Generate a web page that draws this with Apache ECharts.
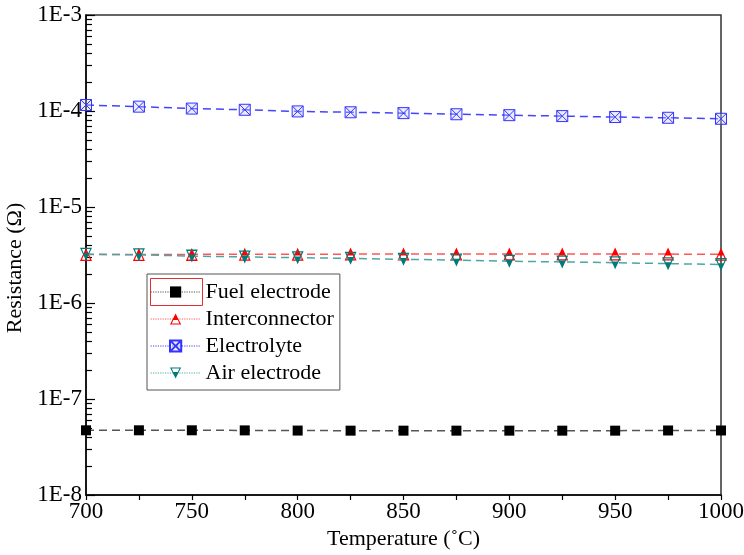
<!DOCTYPE html>
<html>
<head>
<meta charset="utf-8">
<script src="https://cdn.jsdelivr.net/npm/echarts@6/dist/echarts.min.js"></script>
<style>html,body{margin:0;padding:0;background:#fff;}#c{width:744px;height:555px;}</style>
</head>
<body>
<div id="c"></div>
<script>
var temps = [700, 725, 750, 775, 800, 825, 850, 875, 900, 925, 950, 975, 1000];
var fuelElectrode = [4.72e-8, 4.72e-8, 4.72e-8, 4.71e-8, 4.69e-8, 4.68e-8, 4.68e-8, 4.68e-8, 4.68e-8, 4.68e-8, 4.68e-8, 4.7e-8, 4.7e-8];
var interconnector = [3.2e-6, 3.2e-6, 3.21e-6, 3.22e-6, 3.22e-6, 3.23e-6, 3.23e-6, 3.23e-6, 3.23e-6, 3.23e-6, 3.23e-6, 3.23e-6, 3.22e-6];
var electrolyte = [1.155e-4, 1.11e-4, 1.06e-4, 1.03e-4, 0.99e-4, 0.97e-4, 0.95e-4, 0.925e-4, 0.905e-4, 0.885e-4, 0.865e-4, 0.85e-4, 0.83e-4];
var airElectrode = [3.22e-6, 3.18e-6, 3.08e-6, 3.02e-6, 2.96e-6, 2.92e-6, 2.85e-6, 2.8e-6, 2.72e-6, 2.68e-6, 2.63e-6, 2.57e-6, 2.52e-6];
var seriesNames = ['Fuel electrode', 'Interconnector', 'Electrolyte', 'Air electrode'];
var yTickValues = [1e-8, 1e-7, 1e-6, 1e-5, 1e-4, 1e-3];
var yTickLabels = ['1E-8', '1E-7', '1E-6', '1E-5', '1E-4', '1E-3'];
var xTickLabels = ['700', '750', '800', '850', '900', '950', '1000'];

var minorVals = [];
for (var d = -8; d < -3; d++) {
  for (var k = 2; k <= 9; k++) minorVals.push(k * Math.pow(10, d));
}

var FONT = '"Liberation Serif", "Times New Roman", serif';
var upHalf = 'path://M5 0 L10 10 L0 10 Z M3 6 L1.6 9 L8.4 9 L7 6 Z';
var downHalf = 'path://M0 0 L10 0 L5 10 Z M1.6 1 L3 4 L7 4 L8.4 1 Z';
var boxX = 'path://M0 0 L10 0 L10 10 L0 10 Z M0 0 L10 10 M10 0 L0 10';

function pairs(arr) { return temps.map(function (t, i) { return [t, arr[i]]; }); }

var chart = echarts.init(document.getElementById('c'), null, { renderer: 'canvas' });
chart.setOption({
  animation: false,
  backgroundColor: '#fff',
  textStyle: { fontFamily: FONT },
  grid: { left: 86, right: 23, top: 15, bottom: 60, show: true, borderColor: '#333', borderWidth: 1.5,
    backgroundColor: 'transparent', containLabel: false, outerBoundsMode: 'none' },
  legend: {
    left: 147, top: 274, orient: 'vertical',
    padding: [7, 6, 6, 3],
    itemWidth: 50, itemHeight: 14, itemGap: 5,
    borderColor: '#555', borderWidth: 1,
    backgroundColor: '#fff',
    textStyle: { fontFamily: FONT, fontSize: 22, color: '#000' },
    lineStyle: { type: 'dotted', width: 1.2 },
    data: seriesNames
  },
  xAxis: {
    type: 'value', min: 700, max: 1000, interval: 50,
    name: 'Temperature (\u02DAC)', nameLocation: 'middle', nameGap: 30,
    nameTextStyle: { fontFamily: FONT, fontSize: 22, color: '#000' },
    axisLine: { show: true, lineStyle: { color: '#000', width: 1.5 } },
    axisTick: { show: true, inside: false, length: 5, lineStyle: { color: '#000', width: 1.2 } },
    minorTick: { show: true, splitNumber: 2, length: 5, lineStyle: { color: '#000', width: 1.2 } },
    axisLabel: { fontFamily: FONT, fontSize: 23, color: '#000', margin: 5, hideOverlap: false,
      formatter: function (v) { var i = xTickLabels.indexOf(String(v)); return i >= 0 ? xTickLabels[i] : ''; } },
    splitLine: { show: false }
  },
  yAxis: [{
    type: 'log', logBase: 10, min: 1e-8, max: 1e-3,
    name: 'Resistance (\u03A9)', nameLocation: 'middle', nameGap: 58,
    nameTextStyle: { fontFamily: FONT, fontSize: 22, color: '#000', padding: [0, 26, 0, 0] },
    axisLine: { show: true, lineStyle: { color: '#000', width: 1.5 } },
    axisTick: { show: true, inside: true, length: 9, lineStyle: { color: '#000', width: 1.2 } },
    axisLabel: { fontFamily: FONT, fontSize: 23, color: '#000', margin: 4,
      formatter: function (v) {
        var e = Math.round(Math.log10(v));
        for (var i = 0; i < yTickValues.length; i++) {
          if (Math.round(Math.log10(yTickValues[i])) === e) return yTickLabels[i];
        }
        return '';
      } },
    splitLine: { show: false }
  }, {
    type: 'log', logBase: 10, min: 1e-8, max: 1e-3, position: 'left',
    axisLine: { show: false },
    axisTick: { show: true, inside: true, length: 6, customValues: minorVals, lineStyle: { color: '#000', width: 1.2 } },
    axisLabel: { show: false },
    splitLine: { show: false }
  }],
  series: [{
    name: seriesNames[0], type: 'line', data: pairs(fuelElectrode),
    symbol: 'rect', symbolSize: 10,
    itemStyle: { color: '#000' },
    lineStyle: { color: '#555', width: 1.5, type: [8, 5] },
    z: 3
  }, {
    name: seriesNames[1], type: 'line', data: pairs(interconnector),
    symbol: upHalf, symbolSize: [12, 13],
    itemStyle: { color: '#ff0000', borderWidth: 0 },
    lineStyle: { color: '#ff5555', width: 1.5, type: [8, 5] },
    z: 4
  }, {
    name: seriesNames[2], type: 'line', data: pairs(electrolyte),
    symbol: boxX, symbolSize: 11,
    itemStyle: { color: 'rgba(200,200,255,0.35)', borderColor: '#3333ff', borderWidth: 1 },
    lineStyle: { color: '#4444ff', width: 1.5, type: [8, 5] },
    z: 3
  }, {
    name: seriesNames[3], type: 'line', data: pairs(airElectrode),
    symbol: downHalf, symbolSize: [12, 13],
    itemStyle: { color: '#007b7b', borderWidth: 0 },
    lineStyle: { color: '#4aa6a6', width: 1.5, type: [8, 5] },
    z: 5
  }],
  graphic: [{
    type: 'rect', left: 148, top: 276, z: 100,
    shape: { width: 52, height: 27 },
    style: { fill: 'none', stroke: '#e03030', lineWidth: 1 }
  }]
});
</script>
</body>
</html>
